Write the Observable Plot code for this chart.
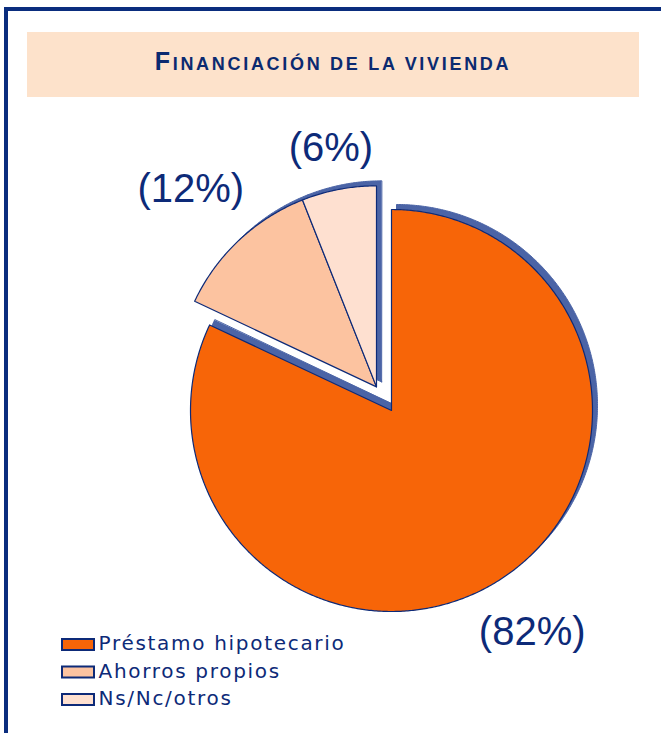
<!DOCTYPE html>
<html>
<head>
<meta charset="utf-8">
<script src="https://cdn.jsdelivr.net/npm/d3@7"></script>
<script src="https://cdn.jsdelivr.net/npm/@observablehq/plot@0.6"></script>
<style>
  html, body { margin: 0; padding: 0; width: 661px; height: 733px; overflow: hidden; background: #fff; }
  #frame { position: absolute; left: 4px; top: 7px; width: 720px; height: 800px;
           border-left: 4px solid #0a2d7e; border-top: 4px solid #0a2d7e; }
  #title { position: absolute; left: 27px; top: 32px; width: 612px; height: 65px;
           background: #fde2cb; text-align: center; line-height: 58px;
           font-family: "Liberation Sans", Arial, sans-serif; font-weight: bold;
           color: #0b2a70; letter-spacing: 2.7px; white-space: nowrap; }
  #title .big { font-size: 25px; }
  #title .small { font-size: 18px; }
  #chart { position: absolute; left: 0; top: 100px; }
</style>
</head>
<body>
<div id="frame"></div>
<div id="title"><span class="big">F</span><span class="small">INANCIACIÓN DE LA VIVIENDA</span></div>
<div id="chart"></div>
<script>
// ---- data ----
const categories = ["Préstamo hipotecario", "Ahorros propios", "Ns/Nc/otros"];
const shares = [82, 12, 6];
const labels = ["(82%)", "(12%)", "(6%)"];
const exploded = [false, true, true];

// ---- layout / style ----
const W = 661, H = 633, TOP = 100;
const center = {x: 391, y: 410};
const radius = 201;
const explodeDist = 28;
const labelFactor = [1.306, 1.35, 1.21];
const shadowOffset = {x: 5, y: -5};
const colors = ["#f76508", "#fcc3a0", "#fee0d0"];
const navy = "#0d2a78";
const shadowColor = "#4b64a6";

const arcs = d3.pie().sort(null).startAngle(0).endAngle(2 * Math.PI)(shares);
const exArcs = arcs.filter((a, i) => exploded[i]);
const exMid = (d3.min(exArcs, a => a.startAngle) + d3.max(exArcs, a => a.endAngle)) / 2;
const exOff = {x: explodeDist * Math.sin(exMid), y: -explodeDist * Math.cos(exMid)};

function apexOf(i) {
  return exploded[i] ? {x: center.x + exOff.x, y: center.y + exOff.y} : {x: center.x, y: center.y};
}

const slicePts = [];
arcs.forEach((a, i) => {
  const c = apexOf(i);
  slicePts.push({key: i, cat: categories[i], x: c.x, y: c.y});
  const n = Math.max(2, Math.ceil((a.endAngle - a.startAngle) / (Math.PI / 360)));
  for (let k = 0; k <= n; k++) {
    const t = a.startAngle + (a.endAngle - a.startAngle) * k / n;
    slicePts.push({key: i, cat: categories[i], x: c.x + radius * Math.sin(t), y: c.y - radius * Math.cos(t)});
  }
});
const shadowPts = slicePts.map(p => ({...p, x: p.x + shadowOffset.x, y: p.y + shadowOffset.y}));

const labelData = arcs.map((a, i) => {
  const c = apexOf(i);
  const m = (a.startAngle + a.endAngle) / 2;
  const r = radius * labelFactor[i];
  return {text: labels[i], x: c.x + r * Math.sin(m), y: c.y - r * Math.cos(m)};
});

const legendData = categories.map((c, i) => ({
  cat: c,
  x1: 62, x2: 94,
  y1: 639 + i * 27.5, y2: 650 + i * 27.5,
  tx: 98, ty: 643.5 + i * 27.5
}));

const chart = Plot.plot({
  width: W, height: H,
  marginTop: 0, marginRight: 0, marginBottom: 0, marginLeft: 0,
  x: {domain: [0, W], range: [0, W], axis: null},
  y: {domain: [TOP, TOP + H], range: [0, H], axis: null},
  color: {domain: categories, range: colors},
  style: {background: "transparent", overflow: "visible"},
  marks: [
    Plot.line(shadowPts, {x: "x", y: "y", z: "key", fill: shadowColor, stroke: shadowColor, strokeWidth: 1, curve: "linear-closed"}),
    Plot.line(slicePts, {x: "x", y: "y", z: "key", fill: "cat", stroke: navy, strokeWidth: 1.2, curve: "linear-closed"}),
    Plot.text(labelData, {x: "x", y: "y", text: "text", fontSize: 40, fill: navy,
      fontFamily: "Liberation Sans, Arial, sans-serif", textAnchor: "middle", lineAnchor: "middle"}),
    Plot.rect(legendData, {x1: "x1", x2: "x2", y1: "y1", y2: "y2", fill: "cat", stroke: navy, strokeWidth: 2}),
    Plot.text(legendData, {x: "tx", y: "ty", text: "cat", fontSize: 20, fill: navy, textAnchor: "start",
      lineAnchor: "middle", fontFamily: "DejaVu Sans, Verdana, sans-serif"})
  ]
});
// widen legend lettering like the original
d3.select(chart).selectAll("text")
  .filter(function() { return categories.includes(this.textContent); })
  .style("letter-spacing", "1.7px");
document.getElementById("chart").appendChild(chart);
</script>
</body>
</html>
